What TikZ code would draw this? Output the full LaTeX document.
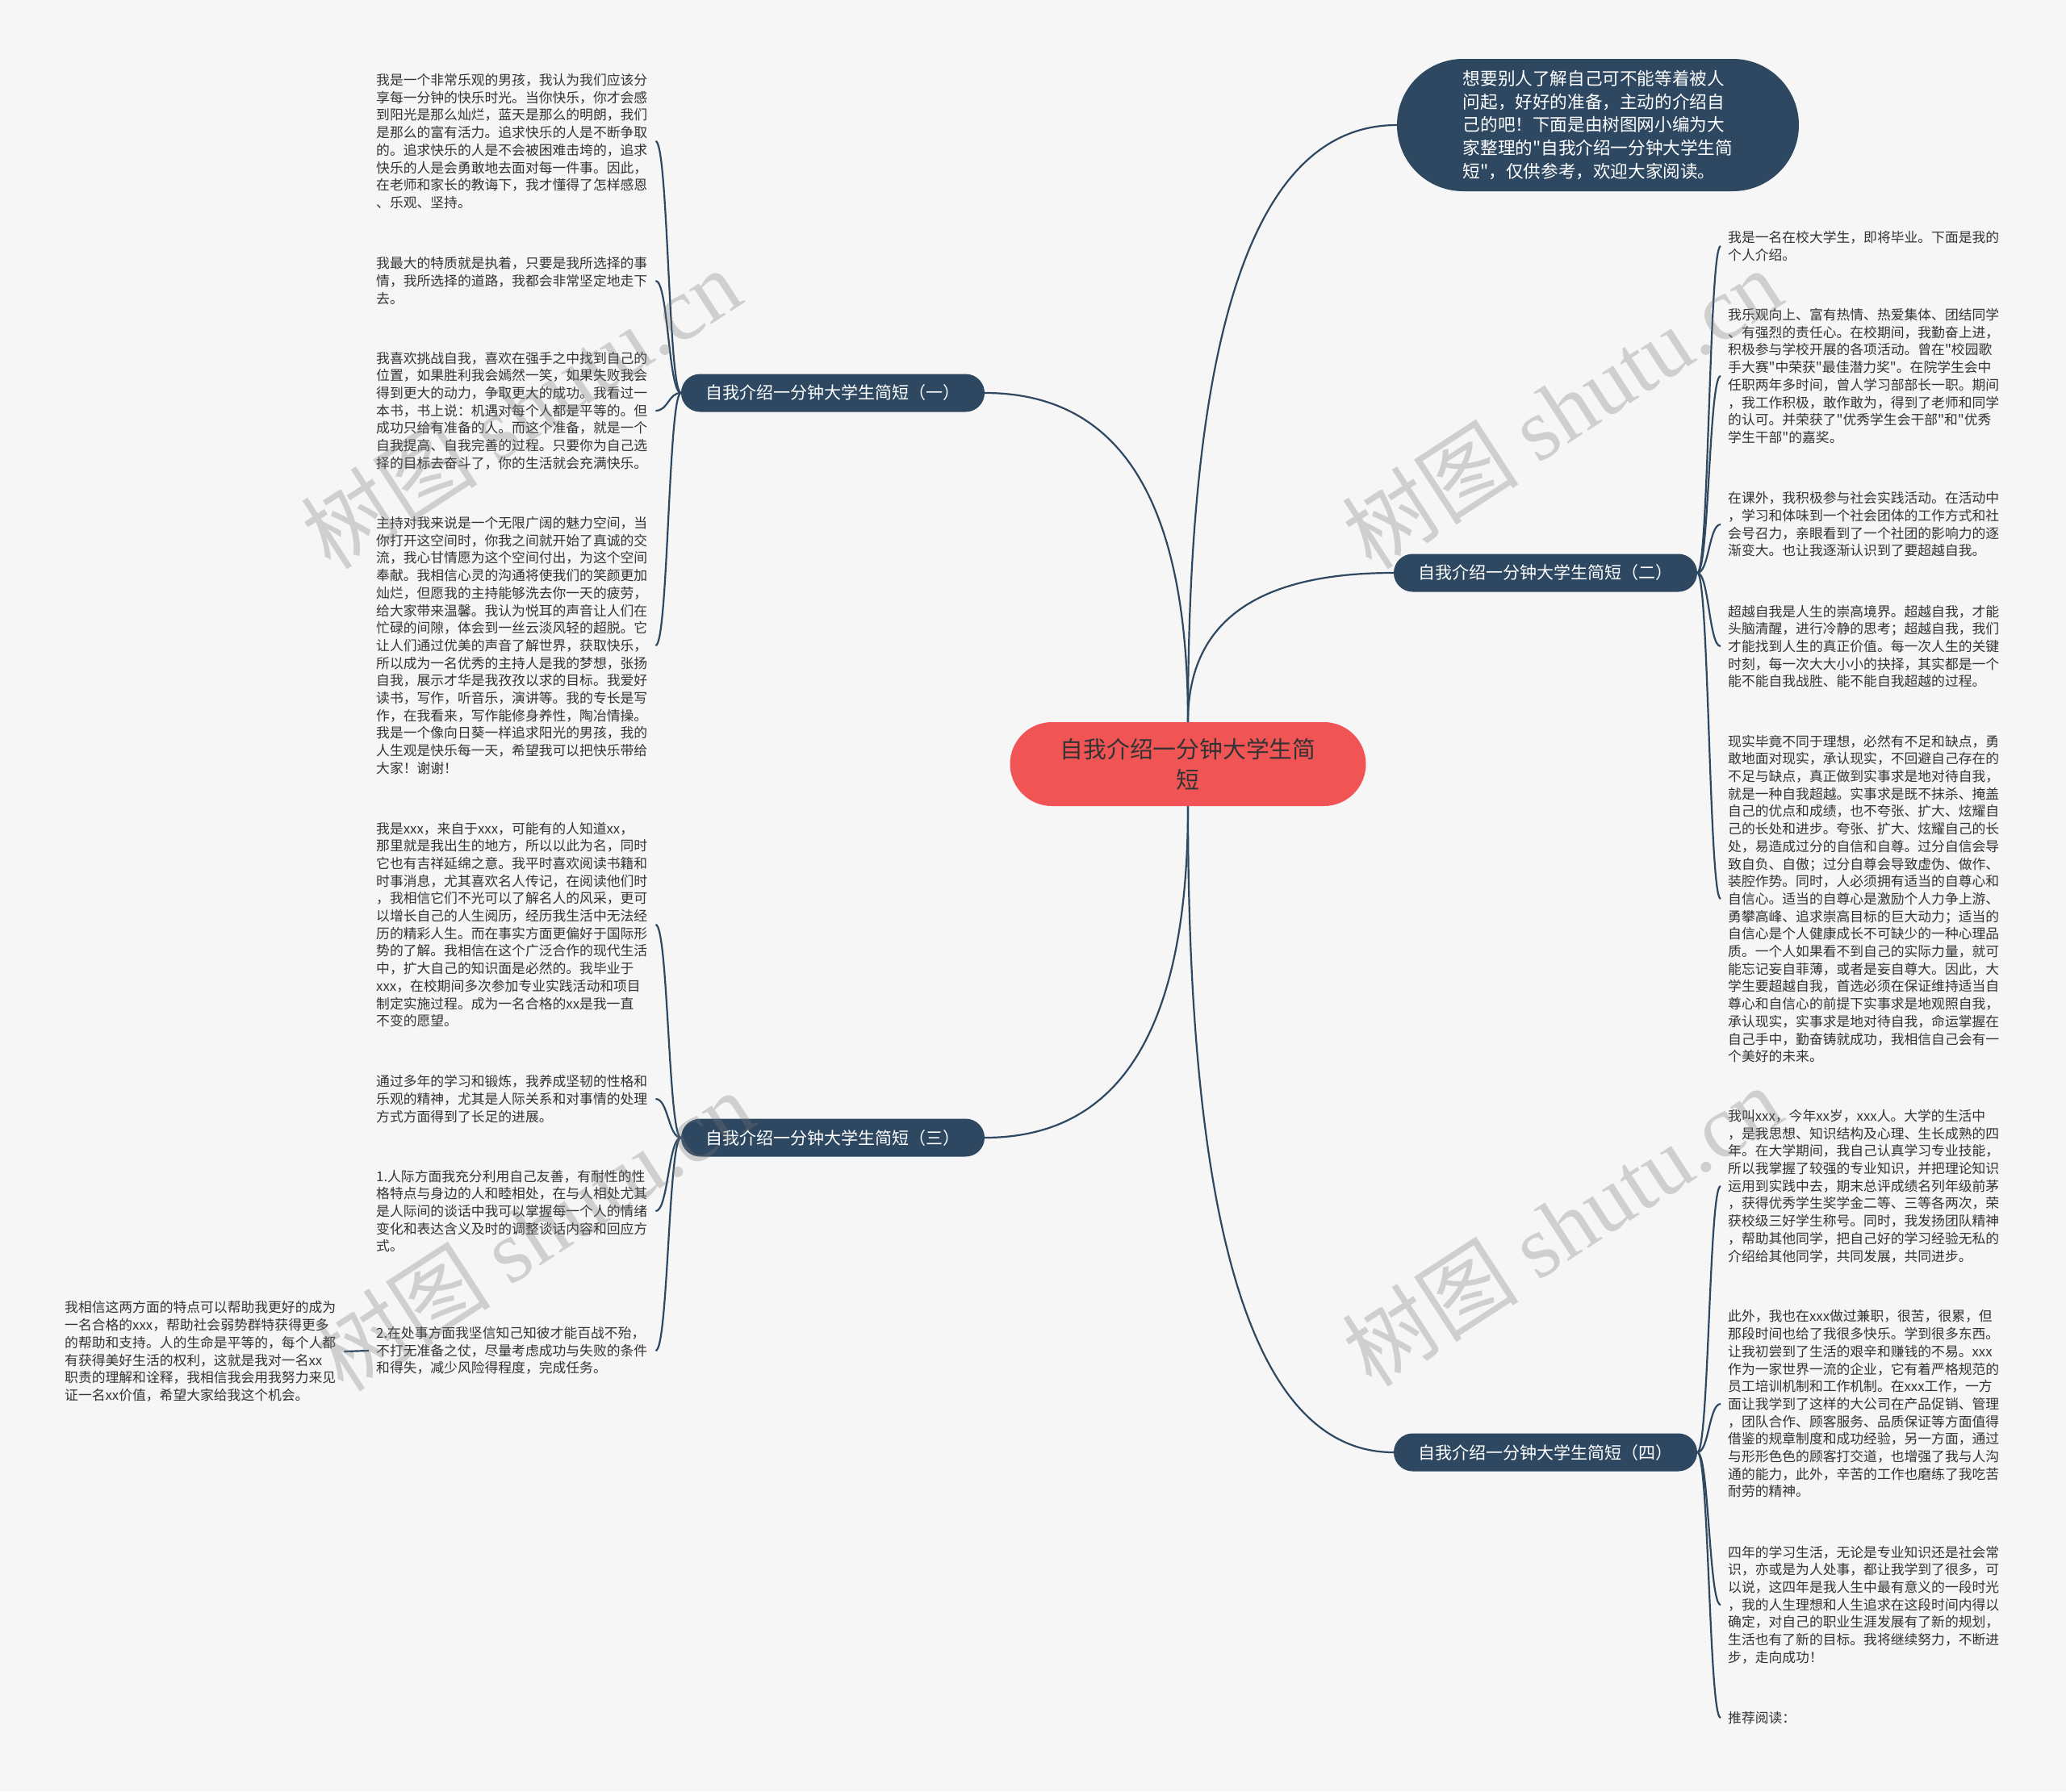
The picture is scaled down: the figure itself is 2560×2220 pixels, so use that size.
\documentclass[tikz,border=0pt]{standalone}
\usepackage{fontspec}
\setmainfont{Noto Sans CJK SC}[Ligatures=TeXOff]
\newfontfamily\wmserif{Liberation Serif}
\usetikzlibrary{calc,backgrounds}
\definecolor{navy}{RGB}{46,72,98}
\definecolor{rootred}{RGB}{240,84,84}
\definecolor{bgc}{RGB}{246,246,246}
\definecolor{txt}{RGB}{51,51,51}
\definecolor{wm}{RGB}{120,120,120}
\tikzset{
  conn/.style={draw=navy, line width=2.2pt},
  rootbox/.style={fill=rootred, text=txt, rounded corners=52pt, minimum width=441pt, minimum height=104pt, inner sep=0pt, align=center, font=\fontsize{28.8}{37.5}\selectfont},
  topbox/.style={fill=navy, text=white, rounded corners=82pt, minimum width=498pt, minimum height=164pt, inner sep=0pt, align=left, font=\fontsize{21.6}{28.6}\selectfont},
  branch/.style={fill=navy, text=white, rounded corners=23.5pt, minimum width=376pt, minimum height=47pt, inner sep=0pt, font=\fontsize{21}{26}\selectfont},
  leaf/.style={text=txt, align=left, text width=337pt, inner xsep=9pt, inner ysep=2pt, font=\fontsize{16.8}{21.7}\selectfont},
  wmark/.style={text=wm, opacity=0.3, rotate=33, inner sep=0pt}
}
\newcommand\qconn[2]{\draw[conn] (#1) .. controls ($(#1)!0.67!(#1|-#2)$) and ($(#2)!0.67!(#1|-#2)$) .. (#2);}
\newcommand\elbow[2]{\path ($(#1)!0.5!(#2)$) coordinate (mm); \draw[conn] (#1) .. controls (mm|-#1) and (mm|-#2) .. (#2);}
\begin{document}
\begin{tikzpicture}[x=1pt,y=-1pt]
\useasboundingbox (0,0) rectangle (2560,2220);
\begin{scope}[on background layer]
\fill[bgc] (0,0) rectangle (2560,2220);
\end{scope}

% root and branches
\node[rootbox] (root) at (1472,947) {自我介绍一分钟大学生简\\短};
\node[topbox] (top) at (1980,155) {想要别人了解自己可不能等着被人\\问起，好好的准备，主动的介绍自\\己的吧！下面是由树图网小编为大\\家整理的"自我介绍一分钟大学生简\\短"，仅供参考，欢迎大家阅读。};
\node[branch] (b1) at (1032,487) {自我介绍一分钟大学生简短（一）};
\node[branch] (b2) at (1915,710) {自我介绍一分钟大学生简短（二）};
\node[branch] (b3) at (1032,1410) {自我介绍一分钟大学生简短（三）};
\node[branch] (b4) at (1915,1800) {自我介绍一分钟大学生简短（四）};

% left leaves of b1
\node[leaf, anchor=west] (l1) at (457,175) {我是一个非常乐观的男孩，我认为我们应该分\\享每一分钟的快乐时光。当你快乐，你才会感\\到阳光是那么灿烂，蓝天是那么的明朗，我们\\是那么的富有活力。追求快乐的人是不断争取\\的。追求快乐的人是不会被困难击垮的，追求\\快乐的人是会勇敢地去面对每一件事。因此，\\在老师和家长的教诲下，我才懂得了怎样感恩\\、乐观、坚持。};
\node[leaf, anchor=west] (l2) at (457,348) {我最大的特质就是执着，只要是我所选择的事\\情，我所选择的道路，我都会非常坚定地走下\\去。};
\node[leaf, anchor=west] (l3) at (457,509) {我喜欢挑战自我，喜欢在强手之中找到自己的\\位置，如果胜利我会嫣然一笑，如果失败我会\\得到更大的动力，争取更大的成功。我看过一\\本书，书上说：机遇对每个人都是平等的。但\\成功只给有准备的人。而这个准备，就是一个\\自我提高、自我完善的过程。只要你为自己选\\择的目标去奋斗了，你的生活就会充满快乐。};
\node[leaf, anchor=west] (l4) at (457,800) {主持对我来说是一个无限广阔的魅力空间，当\\你打开这空间时，你我之间就开始了真诚的交\\流，我心甘情愿为这个空间付出，为这个空间\\奉献。我相信心灵的沟通将使我们的笑颜更加\\灿烂，但愿我的主持能够洗去你一天的疲劳，\\给大家带来温馨。我认为悦耳的声音让人们在\\忙碌的间隙，体会到一丝云淡风轻的超脱。它\\让人们通过优美的声音了解世界，获取快乐，\\所以成为一名优秀的主持人是我的梦想，张扬\\自我，展示才华是我孜孜以求的目标。我爱好\\读书，写作，听音乐，演讲等。我的专长是写\\作，在我看来，写作能修身养性，陶冶情操。\\我是一个像向日葵一样追求阳光的男孩，我的\\人生观是快乐每一天，希望我可以把快乐带给\\大家！谢谢！};

% left leaves of b3
\node[leaf, anchor=west] (l5) at (457,1146) {我是xxx，来自于xxx，可能有的人知道xx，\\那里就是我出生的地方，所以以此为名，同时\\它也有吉祥延绵之意。我平时喜欢阅读书籍和\\时事消息，尤其喜欢名人传记，在阅读他们时\\，我相信它们不光可以了解名人的风采，更可\\以增长自己的人生阅历，经历我生活中无法经\\历的精彩人生。而在事实方面更偏好于国际形\\势的了解。我相信在这个广泛合作的现代生活\\中，扩大自己的知识面是必然的。我毕业于\\xxx，在校期间多次参加专业实践活动和项目\\制定实施过程。成为一名合格的xx是我一直\\不变的愿望。};
\node[leaf, anchor=west] (l6) at (457,1362) {通过多年的学习和锻炼，我养成坚韧的性格和\\乐观的精神，尤其是人际关系和对事情的处理\\方式方面得到了长足的进展。};
\node[leaf, anchor=west] (l7) at (457,1501) {1.人际方面我充分利用自己友善，有耐性的性\\格特点与身边的人和睦相处，在与人相处尤其\\是人际间的谈话中我可以掌握每一个人的情绪\\变化和表达含义及时的调整谈话内容和回应方\\式。};
\node[leaf, anchor=west] (l8) at (457,1674) {2.在处事方面我坚信知己知彼才能百战不殆，\\不打无准备之仗，尽量考虑成功与失败的条件\\和得失，减少风险得程度，完成任务。};
\node[leaf, anchor=west] (l9) at (71,1675) {我相信这两方面的特点可以帮助我更好的成为\\一名合格的xxx，帮助社会弱势群特获得更多\\的帮助和支持。人的生命是平等的，每个人都\\有获得美好生活的权利，这就是我对一名xx\\职责的理解和诠释，我相信我会用我努力来见\\证一名xx价值，希望大家给我这个机会。};

% right leaves of b2
\node[leaf, anchor=west] (r1) at (2132,305) {我是一名在校大学生，即将毕业。下面是我的\\个人介绍。};
\node[leaf, anchor=west] (r2) at (2132,466) {我乐观向上、富有热情、热爱集体、团结同学\\、有强烈的责任心。在校期间，我勤奋上进，\\积极参与学校开展的各项活动。曾在"校园歌\\手大赛"中荣获"最佳潜力奖"。在院学生会中\\任职两年多时间，曾人学习部部长一职。期间\\，我工作积极，敢作敢为，得到了老师和同学\\的认可。并荣获了"优秀学生会干部"和"优秀\\学生干部"的嘉奖。};
\node[leaf, anchor=west] (r3) at (2132,650) {在课外，我积极参与社会实践活动。在活动中\\，学习和体味到一个社会团体的工作方式和社\\会号召力，亲眼看到了一个社团的影响力的逐\\渐变大。也让我逐渐认识到了要超越自我。};
\node[leaf, anchor=west] (r4) at (2132,801) {超越自我是人生的崇高境界。超越自我，才能\\头脑清醒，进行冷静的思考；超越自我，我们\\才能找到人生的真正价值。每一次人生的关键\\时刻，每一次大大小小的抉择，其实都是一个\\能不能自我战胜、能不能自我超越的过程。};
\node[leaf, anchor=west] (r5) at (2132,1114) {现实毕竟不同于理想，必然有不足和缺点，勇\\敢地面对现实，承认现实，不回避自己存在的\\不足与缺点，真正做到实事求是地对待自我，\\就是一种自我超越。实事求是既不抹杀、掩盖\\自己的优点和成绩，也不夸张、扩大、炫耀自\\己的长处和进步。夸张、扩大、炫耀自己的长\\处，易造成过分的自信和自尊。过分自信会导\\致自负、自傲；过分自尊会导致虚伪、做作、\\装腔作势。同时，人必须拥有适当的自尊心和\\自信心。适当的自尊心是激励个人力争上游、\\勇攀高峰、追求崇高目标的巨大动力；适当的\\自信心是个人健康成长不可缺少的一种心理品\\质。一个人如果看不到自己的实际力量，就可\\能忘记妄自菲薄，或者是妄自尊大。因此，大\\学生要超越自我，首选必须在保证维持适当自\\尊心和自信心的前提下实事求是地观照自我，\\承认现实，实事求是地对待自我，命运掌握在\\自己手中，勤奋铸就成功，我相信自己会有一\\个美好的未来。};

% right leaves of b4
\node[leaf, anchor=west] (r6) at (2132,1470) {我叫xxx，今年xx岁，xxx人。大学的生活中\\，是我思想、知识结构及心理、生长成熟的四\\年。在大学期间，我自己认真学习专业技能，\\所以我掌握了较强的专业知识，并把理论知识\\运用到实践中去，期末总评成绩名列年级前茅\\，获得优秀学生奖学金二等、三等各两次，荣\\获校级三好学生称号。同时，我发扬团队精神\\，帮助其他同学，把自己好的学习经验无私的\\介绍给其他同学，共同发展，共同进步。};
\node[leaf, anchor=west] (r7) at (2132,1740) {此外，我也在xxx做过兼职，很苦，很累，但\\那段时间也给了我很多快乐。学到很多东西。\\让我初尝到了生活的艰辛和赚钱的不易。xxx\\作为一家世界一流的企业，它有着严格规范的\\员工培训机制和工作机制。在xxx工作，一方\\面让我学到了这样的大公司在产品促销、管理\\，团队合作、顾客服务、品质保证等方面值得\\借鉴的规章制度和成功经验，另一方面，通过\\与形形色色的顾客打交道，也增强了我与人沟\\通的能力，此外，辛苦的工作也磨练了我吃苦\\耐劳的精神。};
\node[leaf, anchor=west] (r8) at (2132,1989) {四年的学习生活，无论是专业知识还是社会常\\识，亦或是为人处事，都让我学到了很多，可\\以说，这四年是我人生中最有意义的一段时光\\，我的人生理想和人生追求在这段时间内得以\\确定，对自己的职业生涯发展有了新的规划，\\生活也有了新的目标。我将继续努力，不断进\\步，走向成功！};
\node[leaf, anchor=west] (r9) at (2132,2129) {推荐阅读：};

% connectors
\begin{scope}[on background layer]
\qconn{root.north}{top.west}
\qconn{root.north}{b2.west}
\qconn{root.north}{b1.east}
\qconn{root.south}{b3.east}
\qconn{root.south}{b4.west}
\foreach \t in {l1,l2,l3,l4} {\elbow{b1.west}{\t.east}}
\foreach \t in {l5,l6,l7,l8} {\elbow{b3.west}{\t.east}}
\elbow{l8.west}{l9.east}
\foreach \t in {r1,r2,r3,r4,r5} {\elbow{b2.east}{\t.west}}
\foreach \t in {r6,r7,r8,r9} {\elbow{b4.east}{\t.west}}
\end{scope}

% watermarks
\node[wmark] (w1) at (645,506) {\fontsize{110}{110}\selectfont 树图 {\wmserif shutu.cn}};
\node[wmark] (w2) at (1935,506) {\fontsize{110}{110}\selectfont 树图 {\wmserif shutu.cn}};
\node[wmark] (w3) at (661,1525) {\fontsize{110}{110}\selectfont 树图 {\wmserif shutu.cn}};
\node[wmark] (w4) at (1935,1519) {\fontsize{110}{110}\selectfont 树图 {\wmserif shutu.cn}};
\end{tikzpicture}
\end{document}
